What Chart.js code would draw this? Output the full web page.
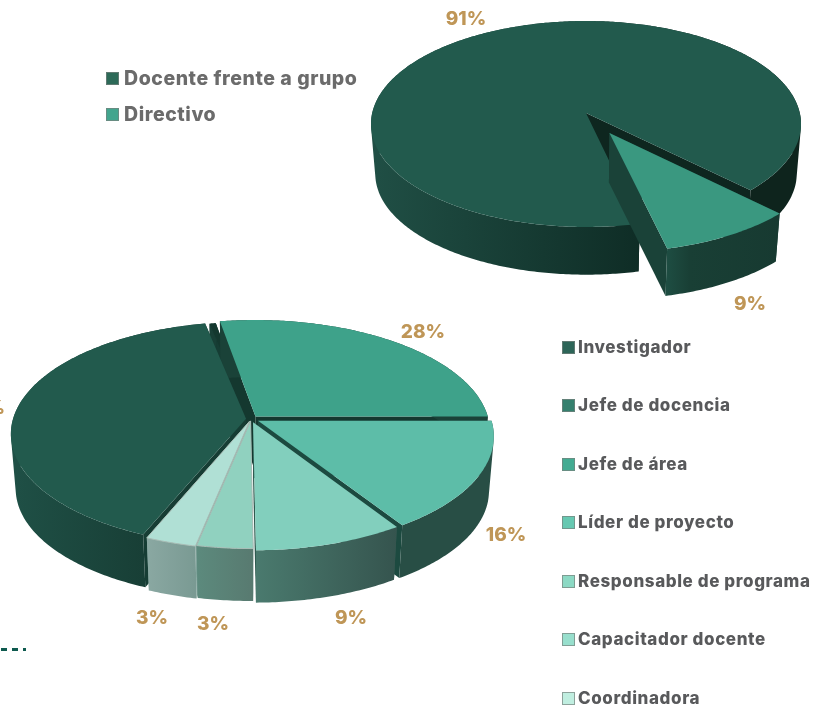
<!DOCTYPE html>
<html><head><meta charset="utf-8">
<script src="https://cdn.jsdelivr.net/npm/chart.js@4"></script>
<style>
html,body{margin:0;padding:0;background:#fff;width:825px;height:706px;overflow:hidden}
canvas{position:absolute;left:0;top:0}
.leg{position:absolute;display:flex;align-items:center;font-family:Inter,"Open Sans",sans-serif;font-weight:800;white-space:nowrap}
.leg i{display:block;width:11px;height:11px;border:1px solid rgba(120,130,125,.7);flex:none}
#dash{position:absolute;left:1px;top:648px;width:25px;height:3px;background:repeating-linear-gradient(90deg,#0e5a4f 0 6px,transparent 6px 11px)}
</style></head><body>
<canvas id="c1" width="825" height="706"></canvas>
<canvas id="c2" width="825" height="706"></canvas>
<div id="dash"></div>
<script>
// ---- data ----
const topLabels = ['Docente frente a grupo','Directivo'];
const topValues = [91,9];
const bottomLabels = ['Investigador','Jefe de docencia','Jefe de área','Líder de proyecto','Responsable de programa','Capacitador docente','Coordinadora'];
const bottomValues = [40.9,0.5,28,16,9.1,3.4,3.1];
// ---- styles ----
const topColors = ['#225a4d','#3a9880'];
const bottomColors = ['#225a4d','#14382f','#3ea28a','#5dbda8','#82cfbd','#90d1bf','#b0e0d5'];
const topLegendColors = ['#2d6a58','#43a58e'];
const bottomLegendColors = ['#2d6558','#35806e','#43ab92','#66c8b1','#8cd9c4','#98dfcd','#c0eee0'];
const topFaces = ['#0e261f','#1a4238'];
const bottomFaces = ['#163d34','#163d34','#14382f','#1c4a40','#2f5a50','#5f8a7e','#7fa39b'];
const topWalls = [[[0,'#204f45'],[.62,'#0f2d26'],[.66,'#0e241d'],[1,'#0e241d']],[[0,'#1e4d42'],[.2,'#193f35'],[1,'#173a31']]];
const bottomWalls = [[[0,'#1f5046'],[.68,'#183f36'],[1,'#183f36']],[[0,'#183f36'],[1,'#183f36']],[[0,'#1a4238'],[1,'#1a4238']],
  [[0,'#284e45'],[1,'#284e45']],[[0,'#4a7a6e'],[1,'#35544e']],[[0,'#5c8a7d'],[1,'#587a70']],[[0,'#8aa8a2'],[1,'#7a9a93']]];
const topOffsets = [0,47];
const bottomOffsets = [5,0,7,8,7,4,5];
const topBorders = ['rgba(0,0,0,0)','rgba(0,0,0,0)'];
const bottomBorders = ['rgba(0,0,0,0)','rgba(0,0,0,0)','rgba(0,0,0,0)','rgba(0,0,0,0)','rgba(0,0,0,0)','#a9bdb6','#a9bdb6'];
const topLabelSpots = [[466,19,'center'],[750,304,'center']];
const bottomLabelSpots = [[5,408,'right'],null,[423,332,'center'],[506,535,'center'],[351,618,'center'],[213,624,'center'],[152,618,'center']];

function pie3d(view){
  return {id:'pie3d',beforeDatasetsDraw(chart){
    const ctx=chart.ctx, meta=chart.getDatasetMeta(0), arcs=meta.data;
    const {cx,yA,A,B,k,s,d}=view;
    const P=(u,v,low)=>{const w=1-k*v,f=low?s:1;return [cx+f*A*u/w, yA+(low?d:0)+f*B*v/w];};
    const order=arcs.map((a,i)=>i).filter(i=>arcs[i].endAngle-arcs[i].startAngle>1e-4)
      .sort((i,j)=>Math.sin((arcs[i].startAngle+arcs[i].endAngle)/2)-Math.sin((arcs[j].startAngle+arcs[j].endAngle)/2));
    for(const i of order){
      const a=arcs[i],mid=(a.startAngle+a.endAngle)/2,f=a.options.offset/A;
      const ox=f*Math.cos(mid),oy=f*Math.sin(mid);
      const pts=[],n=Math.max(8,Math.ceil((a.endAngle-a.startAngle)*80));
      for(let q=0;q<=n;q++){const t=a.startAngle+(a.endAngle-a.startAngle)*q/n;pts.push([Math.cos(t)+ox,Math.sin(t)+oy]);}
      const poly=(list,fill)=>{ctx.beginPath();list.forEach((p,q)=>q?ctx.lineTo(p[0],p[1]):ctx.moveTo(p[0],p[1]));ctx.closePath();ctx.fillStyle=fill;ctx.fill();};
      const c0=[ox,oy];
      const face=view.faces[i];
      poly([P(...c0,false),P(...pts[0],false),P(...pts[0],true),P(...c0,true)],face);
      poly([P(...c0,false),P(...pts[n],false),P(...pts[n],true),P(...c0,true)],face);
      const up=pts.map(p=>P(p[0],p[1],false)),dn=pts.map(p=>P(p[0],p[1],true));
      const xs=up.map(p=>p[0]),x0=Math.min(...xs),x1=Math.max(...xs);
      const g=ctx.createLinearGradient(x0,0,x1,0);
      view.walls[i].forEach(st=>g.addColorStop(st[0],st[1]));
      // one path of equally wound quads: the wall fills with no seams
      ctx.beginPath();
      for(let q=0;q<n;q++){
        const quad=[up[q],up[q+1],dn[q+1],dn[q]];
        let area=0;quad.forEach((p,m)=>{const r=quad[(m+1)%4];area+=p[0]*r[1]-r[0]*p[1];});
        if(area<0)quad.reverse();
        quad.forEach((p,m)=>m?ctx.lineTo(p[0],p[1]):ctx.moveTo(p[0],p[1]));ctx.closePath();
      }
      ctx.fillStyle=g;ctx.fill('nonzero');
      ctx.beginPath();
      const c=P(...c0,false);ctx.moveTo(c[0],c[1]);up.forEach(p=>ctx.lineTo(p[0],p[1]));ctx.closePath();
      ctx.fillStyle=a.options.backgroundColor;ctx.fill();
      ctx.strokeStyle=a.options.borderColor;ctx.lineWidth=a.options.borderWidth;ctx.stroke();
    }
    // value labels
    ctx.font='800 19px Inter, "Open Sans", sans-serif';
    ctx.fillStyle='#bf9657';ctx.textBaseline='middle';
    chart.data.datasets[0].data.forEach((v,i)=>{const sp=view.spots[i];if(!sp)return;ctx.textAlign=sp[2];ctx.fillText(Math.round(v)+'%',sp[0],sp[1]);});
    return false;
  }};
}
function build(id,labels,values,colors,offsets,borders,rotation,view){
  return new Chart(document.getElementById(id),{
    type:'pie',
    data:{labels,datasets:[{data:values,backgroundColor:colors,offset:offsets,borderColor:borders,borderWidth:1}]},
    options:{responsive:false,animation:false,rotation,
      plugins:{legend:{display:false},tooltip:{enabled:false}}},
    plugins:[pie3d(view)]
  });
}
build('c1',topLabels,topValues,topColors,topOffsets,topBorders,167,
  {cx:586,yA:113,A:213.8,B:101.8,k:.1068,s:.98,d:50,faces:topFaces,walls:topWalls,spots:topLabelSpots});
build('c2',bottomLabels,bottomValues,bottomColors,bottomOffsets,bottomBorders,202.6,
  {cx:251,yA:419,A:233,B:110,k:.134,s:.98,d:55,faces:bottomFaces,walls:bottomWalls,spots:bottomLabelSpots});
function legend(labels,colors,x,ys,size,color,gap,spacing){
  labels.forEach((t,i)=>{
    const d=document.createElement('div');d.className='leg';
    d.style.cssText=`left:${x}px;top:${ys[i]-12}px;height:24px;font-size:${size}px;color:${color};letter-spacing:${spacing}px`;
    const sw=document.createElement('i');sw.style.background=colors[i];sw.style.marginRight=gap+'px';d.appendChild(sw);
    d.appendChild(document.createTextNode(t));document.body.appendChild(d);
  });
}
legend(topLabels,topLegendColors,106,[78,114],19.5,'#6b6b6b',5,.55);
legend(bottomLabels,bottomLegendColors,562,[347,405,464,522,581,639,698],17,'#58595b',3,.6);
</script>
</body></html>
